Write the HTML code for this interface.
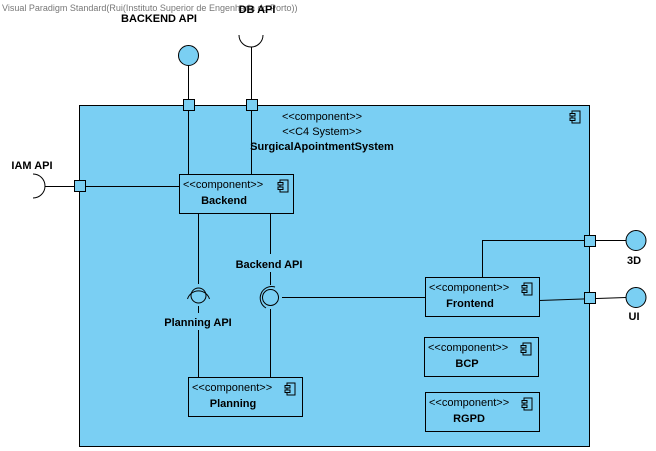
<!DOCTYPE html>
<html><head><style>body{margin:0;background:#fff}svg{display:block}</style></head><body>
<svg width="656" height="451" xmlns="http://www.w3.org/2000/svg" font-family="Liberation Sans, sans-serif">
<defs>
<g id="ic"><rect x="2" y="0" width="8" height="12" fill="none" stroke="#000"/><rect x="0" y="2.5" width="5" height="2.5" fill="#7ACFF3" stroke="#000"/><rect x="0" y="7" width="5" height="2.5" fill="#7ACFF3" stroke="#000"/></g>
</defs>
<text x="2" y="11" font-size="9" fill="#777">Visual Paradigm Standard(Rui(Instituto Superior de Engenharia do Porto))</text>
<rect x="79.5" y="105.5" width="510" height="341" fill="#7ACFF3" stroke="#000"/>
<use href="#ic" x="570" y="111"/>
<text x="322" y="120" font-size="11" text-anchor="middle">&lt;&lt;component&gt;&gt;</text>
<text x="322" y="135" font-size="11" text-anchor="middle">&lt;&lt;C4 System&gt;&gt;</text>
<text x="322" y="150" font-size="11" font-weight="bold" text-anchor="middle">SurgicalApointmentSystem</text>
<g stroke="#000" fill="none">
<line x1="188.5" y1="65" x2="188.5" y2="174"/>
<line x1="251.5" y1="47" x2="251.5" y2="174"/>
<path d="M239 35 A12 12 0 0 0 263 35"/>
<line x1="45" y1="186.5" x2="179" y2="186.5"/>
<path d="M33 174 A12 12 0 0 1 33 198"/>
<line x1="198.5" y1="213" x2="198.5" y2="284"/>
<line x1="198.5" y1="306" x2="198.5" y2="313"/>
<line x1="198.5" y1="330" x2="198.5" y2="377"/>
<line x1="270.5" y1="213" x2="270.5" y2="254"/>
<line x1="270.5" y1="272" x2="270.5" y2="285"/>
<line x1="270.5" y1="309" x2="270.5" y2="377"/>
<line x1="282" y1="297.5" x2="425" y2="297.5"/>
<polyline points="482.5,277 482.5,240.5 626,240.5"/>
<line x1="539" y1="300.5" x2="626" y2="297.5"/>
<circle cx="198.5" cy="295.5" r="7.5"/>
<path d="M187.5 299 A11.5 11.5 0 0 1 209.5 299"/>
<circle cx="270.5" cy="297.5" r="8"/>
<path d="M266 308 A11.5 11.5 0 0 1 275 287"/>
</g>
<circle cx="188.5" cy="55.5" r="10" fill="#7ACFF3" stroke="#000"/>
<circle cx="636" cy="240.5" r="10" fill="#7ACFF3" stroke="#000"/>
<circle cx="636" cy="297.5" r="10" fill="#7ACFF3" stroke="#000"/>
<g fill="#7ACFF3" stroke="#000">
<rect x="183.5" y="99.5" width="11" height="11"/>
<rect x="246.5" y="99.5" width="11" height="11"/>
<rect x="74.5" y="180.5" width="11" height="11"/>
<rect x="584.5" y="235.5" width="11" height="11"/>
<rect x="584.5" y="292.5" width="11" height="11"/>
<rect x="179.5" y="174.5" width="114" height="39"/>
<rect x="425.5" y="277.5" width="114" height="39"/>
<rect x="424.5" y="337.5" width="114" height="39"/>
<rect x="425.5" y="392.5" width="114" height="39"/>
<rect x="188.5" y="377.5" width="114" height="39"/>
</g>
<use href="#ic" x="278" y="180"/><use href="#ic" x="522" y="283"/><use href="#ic" x="521" y="343"/><use href="#ic" x="522" y="398"/><use href="#ic" x="285" y="383"/>
<g font-size="11">
<text x="183" y="188">&lt;&lt;component&gt;&gt;</text><text x="224" y="204" font-weight="bold" text-anchor="middle">Backend</text>
<text x="429" y="291">&lt;&lt;component&gt;&gt;</text><text x="470" y="307" font-weight="bold" text-anchor="middle">Frontend</text>
<text x="428" y="351">&lt;&lt;component&gt;&gt;</text><text x="467" y="367" font-weight="bold" text-anchor="middle">BCP</text>
<text x="429" y="406">&lt;&lt;component&gt;&gt;</text><text x="469" y="422" font-weight="bold" text-anchor="middle">RGPD</text>
<text x="192" y="391">&lt;&lt;component&gt;&gt;</text><text x="233" y="407" font-weight="bold" text-anchor="middle">Planning</text>
</g>
<g font-size="11" font-weight="bold" text-anchor="middle">
<text x="159" y="22">BACKEND API</text>
<text x="257" y="13">DB API</text>
<text x="32" y="169">IAM API</text>
<text x="198" y="326">Planning API</text>
<text x="269" y="268">Backend API</text>
<text x="634" y="264">3D</text>
<text x="634" y="320">UI</text>
</g>
</svg>
</body></html>
